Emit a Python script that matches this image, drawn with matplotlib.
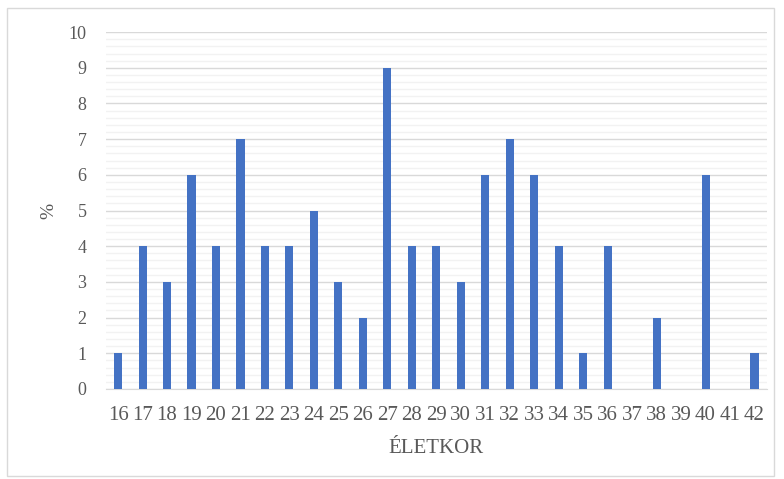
import matplotlib.pyplot as plt
from matplotlib.patches import Rectangle
from matplotlib.ticker import MultipleLocator

# age categories and percentages
ages = [str(a) for a in range(16, 43)]
percent = [1, 4, 3, 6, 4, 7, 4, 4, 5, 3, 2, 9, 4, 4, 3, 6, 7, 6, 4, 1, 4, 0, 2, 0, 6, 0, 1]

text_color = "#595959"
plt.rcParams['font.family'] = ['Liberation Serif', 'DejaVu Serif']

fig = plt.figure(figsize=(7.84, 4.79), dpi=100)
ax = fig.add_axes([0.135, 0.188, 0.843, 0.745])

x = range(len(ages))
ax.bar(x, percent, width=0.33, color="#4472C4", zorder=3)

ax.set_xlim(-0.5, len(ages) - 0.5)
ax.set_ylim(0, 10)
ax.set_xticks(list(x))
ax.set_xticklabels(ages)
ax.yaxis.set_major_locator(MultipleLocator(1))
ax.yaxis.set_minor_locator(MultipleLocator(0.2))

ax.grid(axis='y', which='major', color="#D9D9D9", linewidth=1, zorder=0)
ax.grid(axis='y', which='minor', color="#F2F2F2", linewidth=1, zorder=0)

for side in ['top', 'right', 'left']:
    ax.spines[side].set_visible(False)
ax.spines['bottom'].set_color("#D9D9D9")

ax.tick_params(axis='both', which='both', length=0, colors=text_color)
ax.tick_params(axis='y', labelsize=13, pad=14)
ax.tick_params(axis='x', labelsize=15, pad=12)

ax.set_xlabel("ÉLETKOR", color=text_color, fontsize=15, labelpad=10)
ax.set_ylabel("%", color=text_color, fontsize=14, labelpad=8)

# chart border
fig.patches.append(Rectangle((7 / 784, 3 / 479), 767 / 784, 468 / 479,
                             transform=fig.transFigure, fill=False,
                             edgecolor="#D9D9D9", linewidth=1))

fig.savefig("out.png", dpi=100)
